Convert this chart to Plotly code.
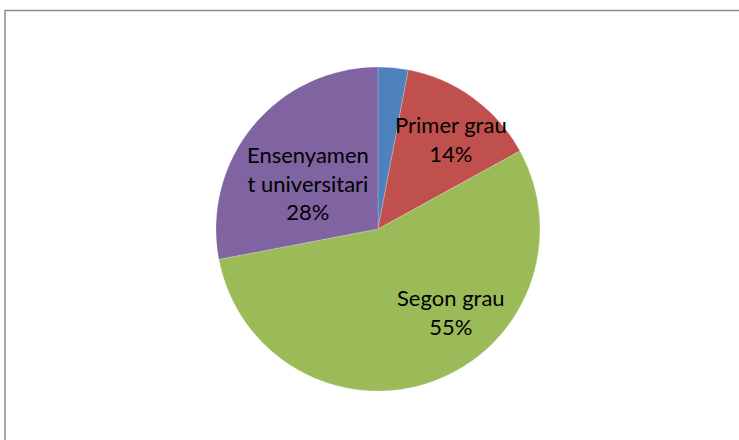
import plotly.graph_objects as go

categories = ["Sense estudis", "Primer grau", "Segon grau", "Ensenyament universitari"]
label_text = ["", "Primer grau", "Segon grau", "Ensenyamen<br>t universitari"]
values = [3, 14, 55, 28]
colors = ["#4F81BD", "#C0504D", "#9BBB59", "#8064A2"]

# label anchor positions in page pixels (layout only)
label_pos = [None, (451, 139), (451, 312), (307.5, 183.5)]

W, H = 739, 440
cx, cy, r = 378, 229, 162

fig = go.Figure(go.Pie(
    labels=categories,
    values=values,
    textinfo="none",
    sort=False,
    direction="clockwise",
    rotation=0,
    marker=dict(colors=colors, line=dict(color="rgba(255,255,255,0.4)", width=0.5)),
    showlegend=False,
    hoverinfo="label+percent",
))

ml, mr, mt, mb = cx - r, W - (cx + r), cy - r, H - (cy + r)
pw, ph = W - ml - mr, H - mt - mb

def px_x(x):
    return (x - ml) / pw

def px_y(y):
    return 1 - (y - mt) / ph

total = sum(values)
for t, v, pos in zip(label_text, values, label_pos):
    if not t or pos is None:
        continue
    fig.add_annotation(
        x=px_x(pos[0]), y=px_y(pos[1]), xref="paper", yref="paper",
        text=f"{t}<br>{round(100 * v / total)}%",
        showarrow=False, xanchor="center", yanchor="middle", align="center",
        font=dict(family="Lato", size=22, color="black"),
    )

fig.add_shape(type="rect", xref="paper", yref="paper",
              x0=px_x(5), x1=px_x(760), y0=px_y(460), y1=px_y(10.5),
              line=dict(color="#8c8c8c", width=1.5), fillcolor="rgba(0,0,0,0)", layer="below")

fig.update_layout(
    width=W, height=H,
    margin=dict(l=ml, r=mr, t=mt, b=mb),
    paper_bgcolor="white",
    plot_bgcolor="white",
)

fig.write_html("out.html", config={"displayModeBar": False},
               post_script="document.body.style.margin='0';document.body.style.overflow='hidden';")
